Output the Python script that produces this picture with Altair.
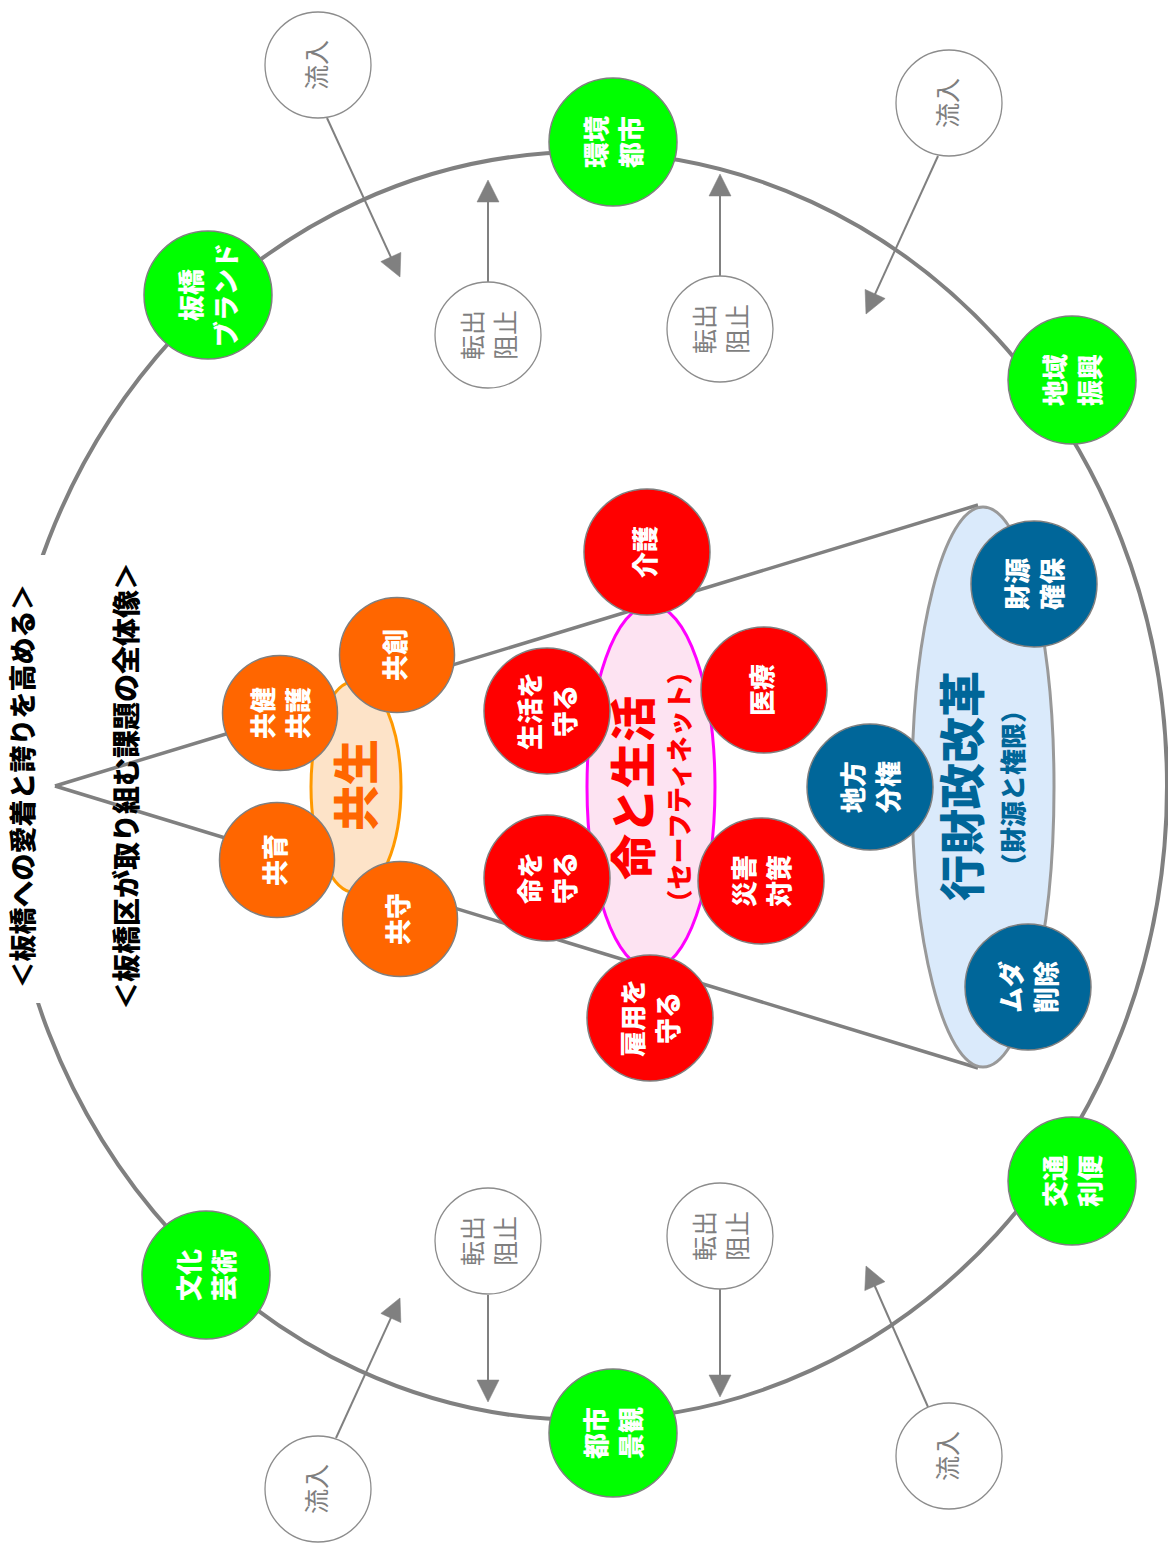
import math
import altair as alt
import pandas as pd

# ---------------- data ----------------
node_labels = ["板橋\nブランド", "環境\n都市", "地域\n振興", "交通\n利便", "都市\n景観", "文化\n芸術",
               "共創", "共健\n共護", "共育", "共守",
               "介護", "生活を\n守る", "医療", "命を\n守る", "災害\n対策", "雇用を\n守る",
               "財源\n確保", "地方\n分権", "ムダ\n削除"]
node_group = ["green"] * 6 + ["orange"] * 4 + ["red"] * 6 + ["blue"] * 3
node_x = [208, 613, 1072, 1072, 613, 206, 397, 280, 277, 400, 647, 547, 764, 547, 761, 650, 1034, 870, 1028]
node_y = [295, 142, 380, 1181, 1433, 1275, 655, 713, 860, 919, 552, 711, 690, 878, 881, 1018, 584, 787, 987]

flow_labels = ["流入", "転出\n阻止", "流入", "転出\n阻止", "転出\n阻止", "流入", "転出\n阻止", "流入"]
flow_x = [318, 488, 949, 720, 488, 318, 720, 949]
flow_y = [65, 335, 103, 329, 1241, 1489, 1236, 1456]
arrow_x1 = [327, 488, 938, 720, 488, 336, 720, 928]
arrow_y1 = [118, 282, 156, 276, 1295, 1438, 1289, 1407]
arrow_x2 = [400, 488, 866, 720, 488, 400, 720, 866]
arrow_y2 = [277, 180, 314, 174, 1402, 1298, 1397, 1266]

ell_names = ["共生", "命と生活", "行財政改革"]
ell_x = [356, 651, 983]
ell_y = [787, 787, 787]
ell_rx = [45, 64, 71]
ell_ry = [106, 182, 280]
ell_fill = ["#FDE3C8", "#FDE3F2", "#DAEAFB"]
ell_stroke = ["#FF9900", "#FF00FF", "#999999"]

outer_x, outer_y, outer_rx, outer_ry = 585, 786, 582, 634

cone_x1 = [55, 55]
cone_y1 = [786, 786]
cone_x2 = [978, 978]
cone_y2 = [505, 1068]

head_texts = ["＜板橋への愛着と誇りを高める＞", "＜板橋区が取り組む課題の全体像＞",
              "共生", "命と生活", "（セーフティネット）", "行財政改革", "（財源と権限）"]
head_x = [25, 129, 359, 636, 681, 965, 1015]
head_y = [786, 786, 785, 788, 787, 786, 788]
head_size = [27, 28, 46, 46, 26, 46, 26]
head_color = ["#000000", "#000000", "#FF6600", "#FF0000", "#FF0000", "#006699", "#006699"]

group_fill = {"green": "#00FF00", "orange": "#FF6600", "red": "#FF0000", "blue": "#006699"}
group_diam = {"green": 128, "orange": 115, "red": 126, "blue": 126}

# ---------------- helpers ----------------
W, H = 1160, 1535
X0, Y0 = 8, 8
FONT = "Noto Sans CJK JP"
xs = alt.Scale(domain=[X0, X0 + W], nice=False, zero=False)
ys = alt.Scale(domain=[Y0, Y0 + H], nice=False, zero=False, reverse=True)
X = lambda f="x": alt.X(f"{f}:Q", scale=xs, axis=None)
Y = lambda f="y": alt.Y(f"{f}:Q", scale=ys, axis=None)


def ellipse_path(rx, ry):
    s = max(rx, ry)
    a, b, k = rx / s, ry / s, 0.5523
    p = (f"M {-a:.4f} 0 C {-a:.4f} {-b*k:.4f} {-a*k:.4f} {-b:.4f} 0 {-b:.4f} "
         f"C {a*k:.4f} {-b:.4f} {a:.4f} {-b*k:.4f} {a:.4f} 0 "
         f"C {a:.4f} {b*k:.4f} {a*k:.4f} {b:.4f} 0 {b:.4f} "
         f"C {-a*k:.4f} {b:.4f} {-a:.4f} {b*k:.4f} {-a:.4f} 0 Z")
    return p, (2 * s) ** 2


layers = []

# outer ring
p, sz = ellipse_path(outer_rx, outer_ry)
layers.append(alt.Chart(pd.DataFrame({"x": [outer_x], "y": [outer_y]})).mark_point(
    shape=p, size=sz, filled=False, stroke="#808080", strokeWidth=4, opacity=1
).encode(x=X(), y=Y()))

# white box behind first title
layers.append(alt.Chart(pd.DataFrame({"x": [8], "x2": [47], "y": [555], "y2": [1003]})).mark_rect(
    fill="white").encode(x=X(), x2="x2:Q", y=Y(), y2="y2:Q"))

# cone lines
layers.append(alt.Chart(pd.DataFrame({"x": cone_x1, "y": cone_y1, "x2": cone_x2, "y2": cone_y2})).mark_rule(
    color="#808080", strokeWidth=3.5).encode(x=X(), y=Y(), x2="x2:Q", y2="y2:Q"))

# arrows
L = 22
rows = []
for x1, y1, x2, y2 in zip(arrow_x1, arrow_y1, arrow_x2, arrow_y2):
    dx, dy = x2 - x1, y2 - y1
    d = math.hypot(dx, dy)
    ux, uy = dx / d, dy / d
    ang = math.degrees(math.atan2(dx, -dy)) % 360
    rows.append({"x": x1, "y": y1, "bx": x2 - ux * (L - 4), "by": y2 - uy * (L - 4),
                 "tx": x2, "ty": y2, "ang": ang})
adf = pd.DataFrame(rows)
layers.append(alt.Chart(adf).mark_rule(color="#808080", strokeWidth=2).encode(
    x=X(), y=Y(), x2="bx:Q", y2="by:Q"))
layers.append(alt.Chart(adf).mark_point(
    shape="M 0 0 L -0.5 1 L 0.5 1 Z", size=(2 * L) ** 2, filled=True, fill="#808080",
    stroke="#808080", strokeWidth=0.5, opacity=1
).encode(x=X("tx"), y=Y("ty"), angle=alt.Angle("ang:Q", scale=None)))

# flow circles
fdf = pd.DataFrame({"x": flow_x, "y": flow_y, "label": flow_labels})
layers.append(alt.Chart(fdf).mark_circle(
    size=106 ** 2, fill="white", stroke="#8C8C8C", strokeWidth=1.3, opacity=1
).encode(x=X(), y=Y()))

# ellipses
for i in range(len(ell_names)):
    p, sz = ellipse_path(ell_rx[i], ell_ry[i])
    layers.append(alt.Chart(pd.DataFrame({"x": [ell_x[i]], "y": [ell_y[i]]})).mark_point(
        shape=p, size=sz, filled=True, fill=ell_fill[i], stroke=ell_stroke[i],
        strokeWidth=3, opacity=1
    ).encode(x=X(), y=Y()))

# nodes
ndf = pd.DataFrame({"x": node_x, "y": node_y, "label": node_labels, "group": node_group})
ndf["fill"] = ndf["group"].map(group_fill)
ndf["size"] = ndf["group"].map(group_diam) ** 2
layers.append(alt.Chart(ndf).mark_circle(stroke="#7F7F7F", strokeWidth=1.5, opacity=1).encode(
    x=X(), y=Y(), fill=alt.Fill("fill:N", scale=None), size=alt.Size("size:Q", scale=None)))


def labels(df, lh, **kw):
    out = []
    one = df[~df["label"].str.contains("\n")]
    two = df[df["label"].str.contains("\n")]
    for part, dy in ((one, 0), (two, -lh / 2 + 2)):
        if len(part):
            out.append(alt.Chart(part).mark_text(
                angle=270, font=FONT, lineBreak="\n", lineHeight=lh, align="center",
                baseline="middle", dy=dy, **kw
            ).encode(x=X(), y=Y(), text="label:N"))
    return out


# node labels
layers += labels(ndf, 35, fontSize=26, fontWeight=900, color="white")
# flow labels
layers += labels(fdf, 33, fontSize=25, fontWeight="normal", color="#7F7F7F")

# headings
hdf = pd.DataFrame({"x": head_x, "y": head_y, "t": head_texts, "s": head_size, "c": head_color})
layers.append(alt.Chart(hdf).mark_text(
    angle=270, font=FONT, fontWeight=900, align="center", baseline="middle"
).encode(x=X(), y=Y(), text="t:N", size=alt.Size("s:Q", scale=None),
         color=alt.Color("c:N", scale=None)))

chart = alt.layer(*layers).properties(
    width=W, height=H, padding=0, autosize="none"
).configure_view(stroke=None)

chart.save("out.html", embed_options={"renderer": "svg", "actions": False})
